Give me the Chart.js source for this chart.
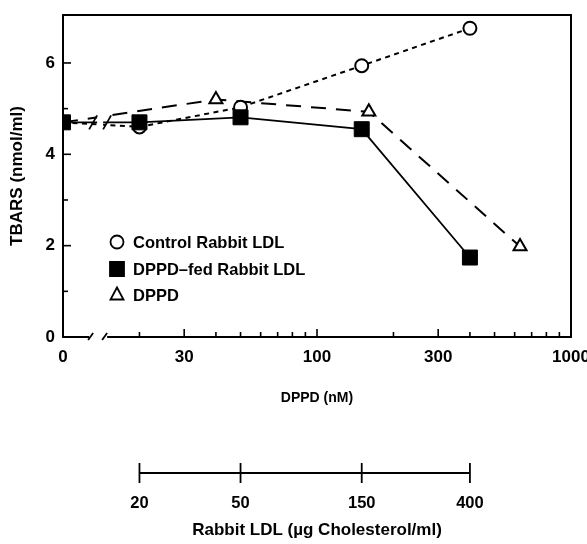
<!DOCTYPE html>
<html><head><meta charset="utf-8">
<script src="https://cdn.jsdelivr.net/npm/chart.js@4.4.1/dist/chart.umd.min.js"></script>
<style>html,body{margin:0;padding:0;background:#fff}canvas{display:block}</style>
</head><body>
<canvas id="c" width="587" height="544"></canvas>
<script>
// ---------------- data ----------------
const dppdNM       = [0, 20, 50, 150, 400];          // DPPD concentration (nM) for the LDL series
const controlLDL   = [4.7, 4.6, 5.03, 5.94, 6.76];   // TBARS, Control Rabbit LDL
const dppdFedLDL   = [4.7, 4.7, 4.81, 4.55, 1.74];   // TBARS, DPPD-fed Rabbit LDL
const dppdOnlyNM   = [0, 40, 160, 630];              // DPPD concentration (nM), DPPD alone
const dppdOnly     = [4.7, 5.2, 4.93, 1.98];         // TBARS, DPPD alone
const xTickValues  = [10,20,30,40,50,60,70,80,90,100,200,300,400,500,600,700,800,900,1000];
const xTickLabels  = {10:'0', 30:'30', 100:'100', 300:'300', 1000:'1000'};
const yTickValues  = [0,1,2,3,4,5,6];
const ldlTickPos   = [20, 50, 150, 400];             // positions on the DPPD axis
const ldlTickLabels= ['20', '50', '150', '400'];     // Rabbit LDL (ug cholesterol/ml)
const seriesNames  = ['Control Rabbit LDL', 'DPPD\u2013fed Rabbit LDL', 'DPPD'];

const AXIS_ORIGIN = 10;   // log-axis position where "0" is drawn
const BREAK_AT = 14;      // axis break location
const toX = v => (v === 0 ? AXIS_ORIGIN : v);
const pts = (xs, ys) => xs.map((x, i) => ({x: toX(x), y: ys[i]}));

const FONT = 'Liberation Sans, Arial, Helvetica, sans-serif';
Chart.defaults.font.family = FONT;
Chart.defaults.color = '#000';

const decor = {
  id: 'decor',
  afterDatasetsDraw(chart) {
    const {ctx, scales: {x, y}} = chart;
    const bx = x.getPixelForValue(BREAK_AT);
    const ly = y.getPixelForValue(dppdFedLDL[0]);
    ctx.save();
    ctx.fillStyle = '#fff';
    ctx.fillRect(bx - 3, ly - 14, 6, 26);
    ctx.strokeStyle = '#000';
    ctx.lineWidth = 1.8;
    for (const dx of [-7, 7]) {
      ctx.beginPath();
      ctx.moveTo(bx + dx - 4, ly + 7);
      ctx.lineTo(bx + dx + 4, ly - 7);
      ctx.stroke();
    }
    ctx.restore();
  },
  afterDraw(chart) {
    const {ctx, chartArea: a, scales: {x, y, x2}} = chart;
    const bx = x.getPixelForValue(BREAK_AT);
    ctx.save();
    ctx.strokeStyle = '#000';
    ctx.lineCap = 'butt';
    // frame with axis break on the bottom edge
    ctx.lineWidth = 2;
    ctx.beginPath();
    ctx.moveTo(bx - 11, a.bottom);
    ctx.lineTo(a.left, a.bottom);
    ctx.lineTo(a.left, a.top);
    ctx.lineTo(a.right, a.top);
    ctx.lineTo(a.right, a.bottom);
    ctx.lineTo(bx + 7, a.bottom);
    ctx.stroke();
    ctx.lineWidth = 1.8;
    for (const dx of [-9, 5]) {
      ctx.beginPath();
      ctx.moveTo(bx + dx - 3, a.bottom + 3);
      ctx.lineTo(bx + dx + 2, a.bottom - 4);
      ctx.stroke();
    }
    // inward tick marks
    ctx.lineWidth = 1.6;
    x.ticks.forEach(t => {
      if (t.value === AXIS_ORIGIN) return;
      const px = x.getPixelForValue(t.value);
      const len = xTickLabels[t.value] ? 8 : 5;
      ctx.beginPath(); ctx.moveTo(px, a.bottom); ctx.lineTo(px, a.bottom - len); ctx.stroke();
    });
    y.ticks.forEach(t => {
      if (t.value === 0) return;
      const py = y.getPixelForValue(t.value);
      const len = t.value % 2 === 0 ? 8 : 5;
      ctx.beginPath(); ctx.moveTo(a.left, py); ctx.lineTo(a.left + len, py); ctx.stroke();
    });
    // secondary (Rabbit LDL) scale bar
    const ly = x2.top + 61;
    const p0 = x2.getPixelForValue(ldlTickPos[0]);
    const p1 = x2.getPixelForValue(ldlTickPos[ldlTickPos.length - 1]);
    ctx.lineWidth = 1.8;
    ctx.beginPath(); ctx.moveTo(p0, ly); ctx.lineTo(p1, ly); ctx.stroke();
    ldlTickPos.forEach(v => {
      const px = x2.getPixelForValue(v);
      ctx.beginPath(); ctx.moveTo(px, ly - 10); ctx.lineTo(px, ly + 10); ctx.stroke();
    });
    // legend
    const order = [0, 1, 2];
    const lx = 117, rows = [242, 269, 295];
    ctx.font = 'bold 16.5px ' + FONT;
    ctx.textBaseline = 'middle';
    ctx.textAlign = 'left';
    order.forEach((di, i) => {
      const ds = chart.data.datasets[di];
      const cy = rows[i];
      ctx.lineWidth = 1.8;
      ctx.fillStyle = ds.pointBackgroundColor;
      ctx.beginPath();
      if (ds.pointStyle === 'circle') {
        ctx.arc(lx, cy, 6.5, 0, Math.PI * 2);
      } else if (ds.pointStyle === 'rect') {
        ctx.rect(lx - 7, cy - 7, 14, 14);
      } else {
        ctx.moveTo(lx, cy - 7.5);
        ctx.lineTo(lx + 6.5, cy + 4.5);
        ctx.lineTo(lx - 6.5, cy + 4.5);
        ctx.closePath();
      }
      ctx.fill(); ctx.stroke();
      ctx.fillStyle = '#000';
      ctx.fillText(ds.label, 133, cy + 1);
    });
    ctx.restore();
  }
};

new Chart(document.getElementById('c'), {
  type: 'line',
  data: {
    datasets: [
      {
        label: seriesNames[0], data: pts(dppdNM, controlLDL), order: 1,
        borderColor: '#000', borderWidth: 2, borderDash: [5, 4.5],
        pointStyle: 'circle', pointRadius: 6.5, pointBackgroundColor: '#fff',
        pointBorderColor: '#000', pointBorderWidth: 2, tension: 0
      },
      {
        label: seriesNames[1], data: pts(dppdNM, dppdFedLDL), order: 0,
        borderColor: '#000', borderWidth: 1.8,
        pointStyle: 'rect', pointRadius: 10.6, pointBackgroundColor: '#000',
        pointBorderColor: '#000', pointBorderWidth: 1, tension: 0
      },
      {
        label: seriesNames[2], data: pts(dppdOnlyNM, dppdOnly), order: 2,
        borderColor: '#000', borderWidth: 2, borderDash: [15, 10],
        pointStyle: 'triangle', pointRadius: 7.5, pointBackgroundColor: '#fff',
        pointBorderColor: '#000', pointBorderWidth: 2, tension: 0
      }
    ]
  },
  options: {
    responsive: false,
    animation: false,
    events: [],
    layout: {padding: {top: 15, right: 16, left: 0, bottom: 0}},
    plugins: {legend: {display: false}, tooltip: {enabled: false}},
    scales: {
      x: {
        type: 'logarithmic', position: 'bottom', min: 10, max: 1000,
        afterBuildTicks: s => { s.ticks = xTickValues.map(v => ({value: v})); },
        afterFit: s => { s.height = 75; s.paddingLeft = 0; s.paddingRight = 0; },
        grid: {display: false, drawTicks: false},
        border: {display: false},
        ticks: {
          autoSkip: false, maxRotation: 0, minRotation: 0, padding: 10,
          font: {size: 17, weight: 'bold'}, color: '#000',
          callback: v => xTickLabels[v] || ''
        },
        title: {display: true, text: 'DPPD (nM)', font: {size: 14, weight: 'bold'}, color: '#000',
                padding: {top: 0, bottom: 5.6}}
      },
      x2: {
        type: 'logarithmic', position: 'bottom', min: 10, max: 1000,
        afterBuildTicks: s => { s.ticks = ldlTickPos.map(v => ({value: v})); },
        afterFit: s => { s.height = 132; s.paddingLeft = 0; s.paddingRight = 0; },
        grid: {display: false, drawTicks: false},
        border: {display: false},
        ticks: {
          autoSkip: false, maxRotation: 0, minRotation: 0, padding: 82,
          font: {size: 16.5, weight: 'bold'}, color: '#000',
          callback: v => ldlTickLabels[ldlTickPos.indexOf(v)] || ''
        },
        title: {display: true, text: 'Rabbit LDL (\u00b5g Cholesterol/ml)', font: {size: 17, weight: 'bold'}, color: '#000',
                padding: {top: 0, bottom: 3}}
      },
      y: {
        type: 'linear', min: 0, max: 7.05,
        afterBuildTicks: s => { s.ticks = yTickValues.map(v => ({value: v})); },
        afterFit: s => { s.width = 63; s.paddingTop = 0; s.paddingBottom = 0; },
        grid: {display: false, drawTicks: false},
        border: {display: false},
        ticks: {
          padding: 8, font: {size: 17, weight: 'bold'}, color: '#000',
          callback: v => (v % 2 === 0 ? String(v) : '')
        },
        title: {display: true, text: 'TBARS (nmol/ml)', font: {size: 17, weight: 'bold'}, color: '#000',
                padding: {top: 7, bottom: 0}}
      }
    }
  },
  plugins: [decor]
});
</script>
</body></html>
